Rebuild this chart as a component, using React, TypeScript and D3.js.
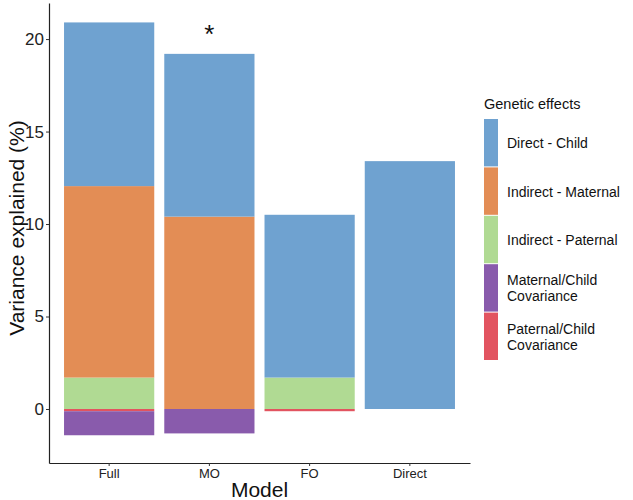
import { useEffect, useRef } from 'react';
import * as d3 from 'd3';

// chart data
const models = ['Full', 'MO', 'FO', 'Direct'];
const componentLabels = [
  ['Direct - Child'],
  ['Indirect - Maternal'],
  ['Indirect - Paternal'],
  ['Maternal/Child', 'Covariance'],
  ['Paternal/Child', 'Covariance'],
];
const directChild = [8.85, 8.8, 8.8, 13.4];
const indirectMaternal = [10.35, 10.4, 0, 0];
const indirectPaternal = [1.7, 0, 1.7, 0];
const maternalCov = [-1.3, -1.32, 0, 0];
const paternalCov = [-0.12, 0, -0.12, 0];
const yTicks = [0, 5, 10, 15, 20];
const annotations = [{ model: 'MO', value: 20.55, text: '*' }];

const colors = ['#6FA2D0', '#E38D55', '#B0DA93', '#895BAC', '#E25460'];
const FONT = '"Liberation Sans", Arial, Helvetica, sans-serif';

const W = 633;
const H = 500;

const App = () => {
  const svgRef = useRef<SVGSVGElement>(null);

  useEffect(() => {
    if (!svgRef.current) return;
    const svg = d3.select(svgRef.current);
    svg.selectAll('*').remove();

    const plot = { left: 49, right: 470, top: 3, bottom: 463 };

    const x = d3.scaleBand<string>()
      .domain(models)
      .range([plot.left, plot.right])
      .paddingInner(0.1)
      .paddingOuter(0.15);

    const y = d3.scaleLinear()
      .domain([-2.92, 21.95])
      .range([plot.bottom, plot.top]);

    // rows for the stack
    const rows = models.map((m, i) => ({
      model: m,
      dc: directChild[i],
      im: indirectMaternal[i],
      ip: indirectPaternal[i],
      mc: maternalCov[i],
      pc: paternalCov[i],
    }));
    // stacking order: closest to zero first
    const keys = ['pc', 'ip', 'mc', 'im', 'dc'];
    const colorOf: Record<string, string> = {
      dc: colors[0], im: colors[1], ip: colors[2], mc: colors[3], pc: colors[4],
    };

    const series = d3.stack<any>()
      .keys(keys)
      .offset(d3.stackOffsetDiverging)(rows);

    const g = svg.append('g');
    series.forEach(s => {
      g.selectAll(null)
        .data(s.filter(d => d[1] !== d[0]))
        .enter()
        .append('rect')
        .attr('x', d => x(d.data.model)!)
        .attr('width', x.bandwidth())
        .attr('y', d => y(Math.max(d[0], d[1])))
        .attr('height', d => Math.abs(y(d[0]) - y(d[1])))
        .attr('fill', colorOf[s.key]);
    });

    // annotation
    annotations.forEach(a => {
      svg.append('text')
        .attr('x', x(a.model)! + x.bandwidth() / 2)
        .attr('y', y(a.value) + 14)
        .attr('text-anchor', 'middle')
        .attr('font-family', FONT)
        .attr('font-size', 26)
        .attr('fill', '#111')
        .text(a.text);
    });

    // y axis
    const yAxis = svg.append('g')
      .attr('transform', `translate(${plot.left},0)`)
      .call(d3.axisLeft(y).tickValues(yTicks).tickSize(3).tickSizeOuter(0).tickFormat(d3.format('d')));
    yAxis.select('.domain').attr('stroke', '#222').attr('stroke-width', 1.2);
    yAxis.selectAll('.tick line').attr('stroke', '#333');
    yAxis.selectAll('.tick text')
      .attr('font-family', FONT)
      .attr('font-size', 17)
      .attr('fill', '#222')
      .attr('x', -5);

    // x axis
    const xAxis = svg.append('g')
      .attr('transform', `translate(0,${plot.bottom})`)
      .call(d3.axisBottom(x).tickSize(3).tickSizeOuter(0));
    xAxis.select('.domain').attr('stroke', '#222').attr('stroke-width', 1.2);
    xAxis.selectAll('.tick line').attr('stroke', '#333');
    xAxis.selectAll('.tick text')
      .attr('font-family', FONT)
      .attr('font-size', 13)
      .attr('fill', '#222')
      .attr('y', 6);

    // axis titles
    svg.append('text')
      .attr('transform', `translate(24,${(plot.top + plot.bottom) / 2 - 5}) rotate(-90)`)
      .attr('text-anchor', 'middle')
      .attr('font-family', FONT)
      .attr('font-size', 21)
      .attr('fill', '#111')
      .text('Variance explained (%)');

    svg.append('text')
      .attr('x', (plot.left + plot.right) / 2)
      .attr('y', 497)
      .attr('text-anchor', 'middle')
      .attr('font-family', FONT)
      .attr('font-size', 21)
      .attr('fill', '#111')
      .text('Model');

    // legend
    const legend = svg.append('g').attr('transform', 'translate(484,0)');
    legend.append('text')
      .attr('x', 0)
      .attr('y', 109)
      .attr('font-family', FONT)
      .attr('font-size', 14.5)
      .attr('fill', '#111')
      .text('Genetic effects');

    const keyH = 48.4;
    componentLabels.forEach((lines, i) => {
      const top = 119 + i * keyH;
      legend.append('rect')
        .attr('x', 0)
        .attr('y', top)
        .attr('width', 14)
        .attr('height', keyH - 1)
        .attr('fill', colors[i]);
      const t = legend.append('text')
        .attr('x', 23)
        .attr('font-family', FONT)
        .attr('font-size', 14)
        .attr('fill', '#111');
      const mid = top + keyH / 2;
      lines.forEach((line, j) => {
        t.append('tspan')
          .attr('x', 23)
          .attr('y', mid + 5 + (j - (lines.length - 1) / 2) * 16)
          .text(line);
      });
    });
  }, []);

  return (
    <svg
      ref={svgRef}
      width={W}
      height={H}
      style={{ position: 'absolute', left: 0, top: 0, background: '#fff' }}
    />
  );
};

export default App;
